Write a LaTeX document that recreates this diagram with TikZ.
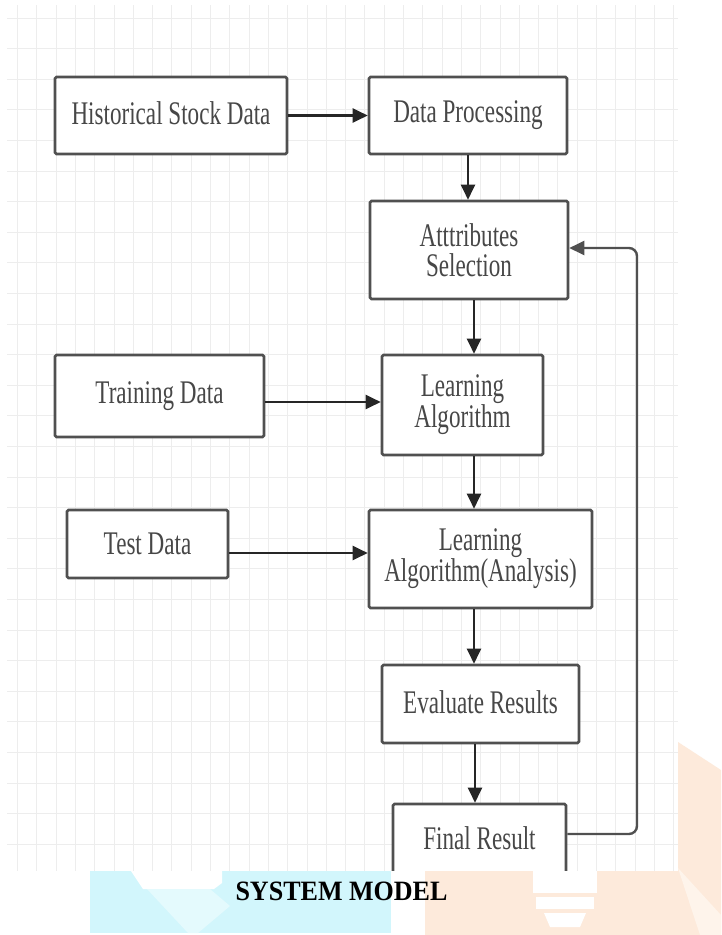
\documentclass[tikz,border=0pt]{standalone}
\usepackage{fontspec}
\newfontfamily\boxfont[FakeStretch=0.70]{Liberation Serif}
\newfontfamily\capfont[FakeStretch=0.93]{Liberation Serif}
\usetikzlibrary{arrows.meta}
\definecolor{txt}{HTML}{474747}
\definecolor{bord}{HTML}{505050}
\definecolor{gridc}{HTML}{EDEDED}
\definecolor{wmcyan}{HTML}{D2F6FC}
\definecolor{wmorange}{HTML}{FDEADB}
\begin{document}
\begin{tikzpicture}[x=1pt,y=-1pt,
  box/.style={draw=bord, line width=2.6pt, rounded corners=1.5pt, fill=white,
    align=center, font=\boxfont\fontsize{33}{30}\selectfont, text=txt, inner sep=0pt},
  arr/.style={draw=black!85, line width=2.2pt, -{Triangle[length=15pt,width=14pt]}},
  fb/.style={draw=bord, line width=2.4pt, rounded corners=8pt, -{Triangle[length=15pt,width=14pt]}},
  gridline/.style={draw=gridc, line width=0.9pt}
  ]
\useasboundingbox (0,0) rectangle (721,935);
\fill[white] (0,0) rectangle (721,935);
% background grid
\foreach \i in {0,...,34} {\draw[gridline] ({17.5+\i*19.3},5) -- ({17.5+\i*19.3},871);}
\foreach \j in {0,...,27} {\draw[gridline] (7,{18+\j*30.6}) -- (678,{18+\j*30.6});}
% boxes
\node[box, minimum width=232pt, minimum height=77pt] (hist) at (171,115.5) {\raisebox{4pt}{Historical Stock Data}};
\node[box, minimum width=198pt, minimum height=77pt] (dp) at (468,115.5) {Data Processing};
\node[box, minimum width=198pt, minimum height=98pt] (attr) at (469,250) {Atttributes\\Selection};
\node[box, minimum width=209pt, minimum height=82pt] (train) at (159.5,396) {\raisebox{4pt}{Training Data}};
\node[box, minimum width=161pt, minimum height=100pt] (la) at (462.5,405) {Learning\\Algorithm};
\node[box, minimum width=161pt, minimum height=68pt] (test) at (147.5,544) {Test Data};
\node[box, minimum width=223pt, minimum height=98pt] (laa) at (480.5,559) {Learning\\Algorithm(Analysis)};
\node[box, minimum width=197pt, minimum height=78pt] (eval) at (480.5,704) {\raisebox{4pt}{Evaluate Results}};
\node[box, minimum width=173pt, minimum height=70pt] (fr) at (479.5,839) {\raisebox{2pt}{Final Result}};
% connectors
\draw[arr] (hist.east) -- (dp.west);
\draw[arr] (dp.south) -- (dp.south |- attr.north);
\draw[arr] ([xshift=5pt]attr.south) -- ([xshift=5pt]attr.south |- la.north);
\draw[arr] ([yshift=-6pt]train.east) -- ([yshift=-6pt]train.east -| la.west);
\draw[arr] ([xshift=11.5pt]la.south) -- ([xshift=11.5pt]la.south |- laa.north);
\draw[arr] ([yshift=-9pt]test.east) -- ([yshift=-9pt]test.east -| laa.west);
\draw[arr] ([xshift=-6.5pt]laa.south) -- ([xshift=-6.5pt]laa.south |- eval.north);
\draw[arr] ([xshift=-5.5pt]eval.south) -- ([xshift=-5.5pt]eval.south |- fr.north);
\coordinate (fbx) at (637,0);
\draw[fb] ([yshift=5pt]fr.east) -- ([yshift=5pt]fr.east -| fbx) -- ([yshift=2pt]attr.east -| fbx) -- ([yshift=2pt]attr.east);
% bottom band with watermark
\fill[white] (0,871) rectangle (721,935);
\fill[wmcyan] (90,871) rectangle (391,933);
\fill[white] (131,871) -- (222,871) -- (222,883) -- (214,889) -- (143,889) -- cycle;
\fill[white!40!wmcyan] (147,889) -- (210,889) -- (230,906) -- (198,933) -- (188,933) -- cycle;
\fill[wmorange] (678,742) -- (721,770) -- (721,935) -- (425,935) -- (425,871) -- (678,871) -- cycle;
\fill[white!45!wmorange] (678,868) -- (721,915) -- (721,935) -- (700,935) -- cycle;
\fill[white] (533,871) rectangle (597,893);
\fill[white] (536,897) rectangle (594,909);
\fill[white] (544,913) -- (586,913) -- (580,927) -- (550,927) -- cycle;
\node[font=\capfont\bfseries\fontsize{28}{30}\selectfont, text=black, inner sep=0pt] (cap) at (341.5,891) {SYSTEM MODEL};
\end{tikzpicture}
\end{document}
